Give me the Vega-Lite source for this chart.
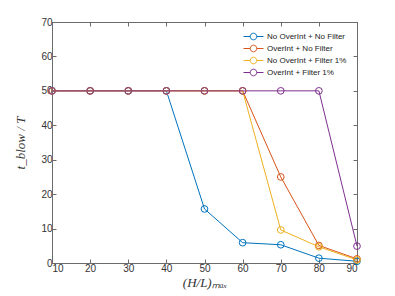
{
  "$schema": "https://vega.github.io/schema/vega-lite/v6.json",
  "width": 305,
  "height": 241,
  "autosize": "none",
  "padding": {"left": 52, "top": 22, "right": 38, "bottom": 33},
  "background": "white",
  "config": {
    "view": {"stroke": "#6b6b6b", "strokeWidth": 1},
    "font": "Liberation Sans",
    "axis": {
      "domainColor": "#6b6b6b",
      "tickColor": "#6b6b6b",
      "tickSize": -4,
      "grid": false,
      "labelColor": "#333333",
      "labelFontSize": 10,
      "labelFont": "Liberation Sans",
      "titleFont": "Liberation Serif",
      "titleFontStyle": "italic",
      "titleFontWeight": "normal",
      "titleColor": "#333333",
      "titleFontSize": 13
    },
    "legend": {
      "symbolType": "M-2,0L-0.66,0M0.66,0L2,0M-0.66,0A0.66,0.66 0 1,1 0.66,0A0.66,0.66 0 1,1 -0.66,0",
      "symbolSize": 100, "symbolStrokeWidth": 1, "symbolFillColor": "transparent",
      "labelFontSize": 8, "labelColor": "#222222", "labelOffset": 8, "rowPadding": 1
    }
  },
  "data": {
    "values": [
      {"x": 10, "y": 50, "s": "No OverInt + No Filter"},
      {"x": 20, "y": 50, "s": "No OverInt + No Filter"},
      {"x": 30, "y": 50, "s": "No OverInt + No Filter"},
      {"x": 40, "y": 50, "s": "No OverInt + No Filter"},
      {"x": 50, "y": 15.7, "s": "No OverInt + No Filter"},
      {"x": 60, "y": 5.9, "s": "No OverInt + No Filter"},
      {"x": 70, "y": 5.3, "s": "No OverInt + No Filter"},
      {"x": 80, "y": 1.4, "s": "No OverInt + No Filter"},
      {"x": 90, "y": 0.5, "s": "No OverInt + No Filter"},
      {"x": 10, "y": 50, "s": "OverInt + No Filter"},
      {"x": 20, "y": 50, "s": "OverInt + No Filter"},
      {"x": 30, "y": 50, "s": "OverInt + No Filter"},
      {"x": 40, "y": 50, "s": "OverInt + No Filter"},
      {"x": 50, "y": 50, "s": "OverInt + No Filter"},
      {"x": 60, "y": 50, "s": "OverInt + No Filter"},
      {"x": 70, "y": 25, "s": "OverInt + No Filter"},
      {"x": 80, "y": 5.1, "s": "OverInt + No Filter"},
      {"x": 90, "y": 1.2, "s": "OverInt + No Filter"},
      {"x": 10, "y": 50, "s": "No OverInt + Filter 1%"},
      {"x": 20, "y": 50, "s": "No OverInt + Filter 1%"},
      {"x": 30, "y": 50, "s": "No OverInt + Filter 1%"},
      {"x": 40, "y": 50, "s": "No OverInt + Filter 1%"},
      {"x": 50, "y": 50, "s": "No OverInt + Filter 1%"},
      {"x": 60, "y": 50, "s": "No OverInt + Filter 1%"},
      {"x": 70, "y": 9.6, "s": "No OverInt + Filter 1%"},
      {"x": 80, "y": 4.7, "s": "No OverInt + Filter 1%"},
      {"x": 90, "y": 0.9, "s": "No OverInt + Filter 1%"},
      {"x": 10, "y": 50, "s": "OverInt + Filter 1%"},
      {"x": 20, "y": 50, "s": "OverInt + Filter 1%"},
      {"x": 30, "y": 50, "s": "OverInt + Filter 1%"},
      {"x": 40, "y": 50, "s": "OverInt + Filter 1%"},
      {"x": 50, "y": 50, "s": "OverInt + Filter 1%"},
      {"x": 60, "y": 50, "s": "OverInt + Filter 1%"},
      {"x": 70, "y": 50, "s": "OverInt + Filter 1%"},
      {"x": 80, "y": 50, "s": "OverInt + Filter 1%"},
      {"x": 90, "y": 4.9, "s": "OverInt + Filter 1%"}
    ]
  },
  "layer": [
    {
      "encoding": {
        "x": {"field": "x", "type": "quantitative", "scale": {"domain": [10, 90], "nice": false},
              "axis": {"values": [10,20,30,40,50,60,70,80,90], "title": "(H/L)ₘₐₓ", "labelPadding": 4, "titlePadding": 3}},
        "y": {"field": "y", "type": "quantitative", "scale": {"domain": [0, 70], "nice": false},
              "axis": {"values": [0,10,20,30,40,50,60,70], "title": "t_blow / T", "labelPadding": 4, "titlePadding": 13}},
        "color": {"field": "s", "type": "nominal",
          "scale": {"domain": ["No OverInt + No Filter", "OverInt + No Filter", "No OverInt + Filter 1%", "OverInt + Filter 1%"],
                    "range": ["#0072BD", "#D95319", "#EDB120", "#7E2F8E"]},
          "legend": {"title": null, "orient": "none", "legendX": 196, "legendY": 9}}
      },
      "layer": [
        {"mark": {"type": "line", "strokeWidth": 1, "clip": false}, "encoding": {"order": {"field": "x"}}},
        {"mark": {"type": "point", "shape": "circle", "filled": false, "size": 45, "strokeWidth": 1, "opacity": 1, "clip": false}, "encoding": {}}
      ]
    },
    {
      "mark": {"type": "point", "size": 0, "strokeWidth": 0},
      "encoding": {
        "x": {"field": "x", "type": "quantitative",
              "axis": {"values": [10,20,30,40,50,60,70,80,90], "labels": false, "title": null, "domain": true, "ticks": true}},
        "y": {"field": "y", "type": "quantitative",
              "axis": {"values": [0,10,20,30,40,50,60,70], "labels": false, "title": null, "domain": true, "ticks": true}}
      }
    }
  ],
  "resolve": {"axis": {"x": "independent", "y": "independent"}}
}
